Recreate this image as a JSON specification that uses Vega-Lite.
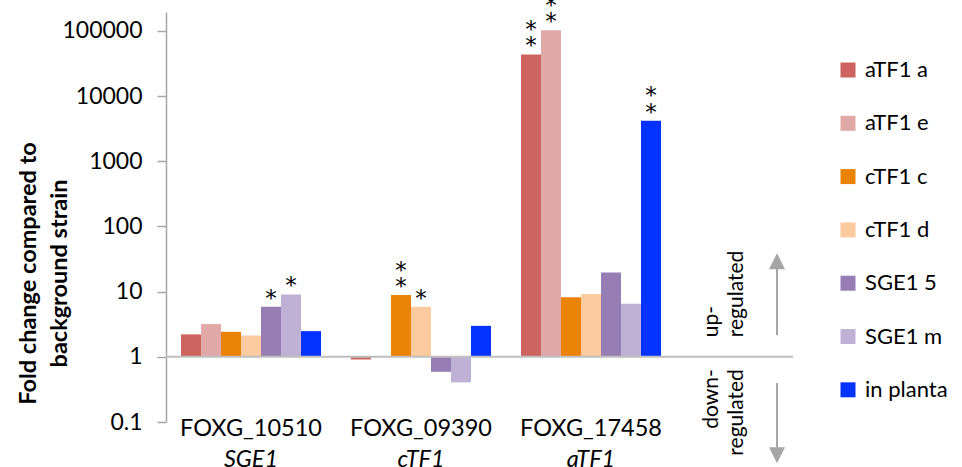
{
  "$schema": "https://vega.github.io/schema/vega-lite/v6.json",
  "width": 627,
  "height": 410,
  "autosize": {"type": "none"},
  "padding": {"left": 166, "top": 12, "right": 169, "bottom": 45},
  "background": "white",
  "config": {"view": {"stroke": null}, "font": "Lato"},
  "datasets": {
    "expr": [
      {"gene": "FOXG_10510", "series": "aTF1 a", "value": 2.21, "sig": 0},
      {"gene": "FOXG_10510", "series": "aTF1 e", "value": 3.18, "sig": 0},
      {"gene": "FOXG_10510", "series": "cTF1 c", "value": 2.42, "sig": 0},
      {"gene": "FOXG_10510", "series": "cTF1 d", "value": 2.13, "sig": 0},
      {"gene": "FOXG_10510", "series": "SGE1 5", "value": 5.85, "sig": 1},
      {"gene": "FOXG_10510", "series": "SGE1 m", "value": 9.06, "sig": 1},
      {"gene": "FOXG_10510", "series": "in planta", "value": 2.48, "sig": 0},
      {"gene": "FOXG_09390", "series": "aTF1 a", "value": 0.91, "sig": 0},
      {"gene": "FOXG_09390", "series": "aTF1 e", "value": 1.0, "sig": 0},
      {"gene": "FOXG_09390", "series": "cTF1 c", "value": 8.85, "sig": 2},
      {"gene": "FOXG_09390", "series": "cTF1 d", "value": 5.85, "sig": 1},
      {"gene": "FOXG_09390", "series": "SGE1 5", "value": 0.589, "sig": 0},
      {"gene": "FOXG_09390", "series": "SGE1 m", "value": 0.405, "sig": 0},
      {"gene": "FOXG_09390", "series": "in planta", "value": 2.99, "sig": 0},
      {"gene": "FOXG_17458", "series": "aTF1 a", "value": 43650, "sig": 2},
      {"gene": "FOXG_17458", "series": "aTF1 e", "value": 103000, "sig": 2},
      {"gene": "FOXG_17458", "series": "cTF1 c", "value": 8.24, "sig": 0},
      {"gene": "FOXG_17458", "series": "cTF1 d", "value": 9.17, "sig": 0},
      {"gene": "FOXG_17458", "series": "SGE1 5", "value": 19.7, "sig": 0},
      {"gene": "FOXG_17458", "series": "SGE1 m", "value": 6.5, "sig": 0},
      {"gene": "FOXG_17458", "series": "in planta", "value": 4180, "sig": 2}
    ],
    "genes": [
      {"gene": "FOXG_10510", "name": "SGE1"},
      {"gene": "FOXG_09390", "name": "cTF1"},
      {"gene": "FOXG_17458", "name": "aTF1"}
    ]
  },
  "layer": [
    {
      "encoding": {
        "x": {
          "field": "gene",
          "type": "nominal",
          "scale": {
            "domain": ["FOXG_10510", "FOXG_09390", "FOXG_17458"],
            "paddingInner": 0.1765,
            "paddingOuter": 0.4323,
            "align": 0.102
          },
          "axis": {
            "title": null,
            "orient": "bottom",
            "domain": false,
            "ticks": false,
            "tickSize": 0,
            "labelAngle": 0,
            "labelFontSize": 23.5,
            "labelColor": "black",
            "labelBaseline": "alphabetic",
            "labelPadding": 13
          }
        }
      },
      "layer": [
        {
          "data": {"name": "expr"},
          "mark": {"type": "bar"},
          "encoding": {
            "xOffset": {
              "field": "series",
              "type": "nominal",
              "scale": {
                "domain": ["aTF1 a", "aTF1 e", "cTF1 c", "cTF1 d", "SGE1 5", "SGE1 m", "in planta"],
                "paddingInner": 0,
                "paddingOuter": 0
              }
            },
            "y": {
              "field": "value",
              "type": "quantitative",
              "scale": {"type": "log", "domain": [0.1, 195600], "nice": false},
              "axis": {
                "values": [0.1, 1, 10, 100, 1000, 10000, 100000],
                "format": "~g",
                "grid": false,
                "labelFontSize": 23,
                "labelColor": "black",
                "labelPadding": 15,
                "tickSize": 9,
                "tickColor": "#A6A6A6",
                "tickWidth": 1.5,
                "domainColor": "#A6A6A6",
                "domainWidth": 1.5,
                "title": ["Fold change compared to", "background strain"],
                "titleFontSize": 23.5,
                "titleFontWeight": "bold",
                "titleColor": "black",
                "titleAngle": 270,
                "titleX": -138,
                "titleY": 261,
                "titleAlign": "center",
                "titleBaseline": "middle",
                "titleLineHeight": 31
              }
            },
            "y2": {"datum": 1},
            "color": {
              "field": "series",
              "type": "nominal",
              "scale": {
                "domain": ["aTF1 a", "aTF1 e", "cTF1 c", "cTF1 d", "SGE1 5", "SGE1 m", "in planta"],
                "range": ["#CD645F", "#E0A9A8", "#EB8307", "#FBCA9F", "#967DB4", "#BFB1D5", "#0433FF"]
              },
              "legend": {
                "orient": "none",
                "legendX": 671,
                "legendY": 47,
                "title": null,
                "padding": 0,
                "symbolType": "square",
                "symbolSize": 225,
                "symbolStrokeWidth": 0,
                "labelFontSize": 22,
                "labelColor": "black",
                "labelOffset": 6,
                "rowPadding": 31.3
              }
            }
          }
        },
        {
          "data": {"name": "expr"},
          "transform": [{"filter": "datum.sig >= 1"}],
          "mark": {"type": "text", "text": "*", "font": "DejaVu Sans", "fontSize": 23, "baseline": "bottom", "dy": 4, "color": "black"},
          "encoding": {
            "xOffset": {
              "field": "series",
              "type": "nominal",
              "scale": {
                "domain": ["aTF1 a", "aTF1 e", "cTF1 c", "cTF1 d", "SGE1 5", "SGE1 m", "in planta"],
                "paddingInner": 0,
                "paddingOuter": 0
              }
            },
            "y": {"field": "value", "type": "quantitative"}
          }
        },
        {
          "data": {"name": "expr"},
          "transform": [{"filter": "datum.sig >= 2"}],
          "mark": {"type": "text", "text": "*", "font": "DejaVu Sans", "fontSize": 23, "baseline": "bottom", "dy": -12.5, "color": "black"},
          "encoding": {
            "xOffset": {
              "field": "series",
              "type": "nominal",
              "scale": {
                "domain": ["aTF1 a", "aTF1 e", "cTF1 c", "cTF1 d", "SGE1 5", "SGE1 m", "in planta"],
                "paddingInner": 0,
                "paddingOuter": 0
              }
            },
            "y": {"field": "value", "type": "quantitative"}
          }
        },
        {
          "data": {"name": "genes"},
          "mark": {"type": "text", "fontSize": 23.5, "fontStyle": "italic", "baseline": "alphabetic", "dy": 45, "color": "black"},
          "encoding": {
            "y": {"datum": 0.1},
            "text": {"field": "name"}
          }
        }
      ]
    },
    {
      "data": {"values": [{}]},
      "mark": {"type": "rule", "color": "#BFBFBF", "strokeWidth": 2},
      "encoding": {"y": {"datum": 1}}
    },
    {
      "data": {"values": [{}]},
      "mark": {"type": "rule", "color": "#A6A6A6", "strokeWidth": 2},
      "encoding": {
        "x": {"datum": 0.9745, "type": "quantitative", "scale": {"domain": [0, 1]}, "axis": null},
        "y": {"datum": 2.15},
        "y2": {"datum": 30}
      }
    },
    {
      "data": {"values": [{}]},
      "mark": {"type": "point", "shape": "M0,-1L1,1L-1,1Z", "size": 256, "filled": true, "color": "#A6A6A6", "opacity": 1},
      "encoding": {
        "x": {"datum": 0.9745, "type": "quantitative", "scale": {"domain": [0, 1]}, "axis": null},
        "y": {"datum": 29.4}
      }
    },
    {
      "data": {"values": [{}]},
      "mark": {"type": "rule", "color": "#A6A6A6", "strokeWidth": 2},
      "encoding": {
        "x": {"datum": 0.9745, "type": "quantitative", "scale": {"domain": [0, 1]}, "axis": null},
        "y": {"datum": 0.396},
        "y2": {"datum": 0.034}
      }
    },
    {
      "data": {"values": [{}]},
      "mark": {"type": "point", "shape": "M0,1L1,-1L-1,-1Z", "size": 256, "filled": true, "color": "#A6A6A6", "opacity": 1},
      "encoding": {
        "x": {"datum": 0.9745, "type": "quantitative", "scale": {"domain": [0, 1]}, "axis": null},
        "y": {"datum": 0.031}
      }
    },
    {
      "data": {"values": [{"label": ["up-", "regulated"]}]},
      "mark": {"type": "text", "angle": 270, "align": "left", "baseline": "middle", "fontSize": 21, "lineHeight": 25, "color": "black"},
      "encoding": {
        "x": {"datum": 0.8708, "type": "quantitative", "scale": {"domain": [0, 1]}, "axis": null},
        "y": {"datum": 2.0},
        "text": {"field": "label"}
      }
    },
    {
      "data": {"values": [{"label": ["down-", "regulated"]}]},
      "mark": {"type": "text", "angle": 270, "align": "right", "baseline": "middle", "fontSize": 21, "lineHeight": 25, "color": "black"},
      "encoding": {
        "x": {"datum": 0.8708, "type": "quantitative", "scale": {"domain": [0, 1]}, "axis": null},
        "y": {"datum": 0.648},
        "text": {"field": "label"}
      }
    }
  ],
  "resolve": {"scale": {"x": "independent"}}
}
